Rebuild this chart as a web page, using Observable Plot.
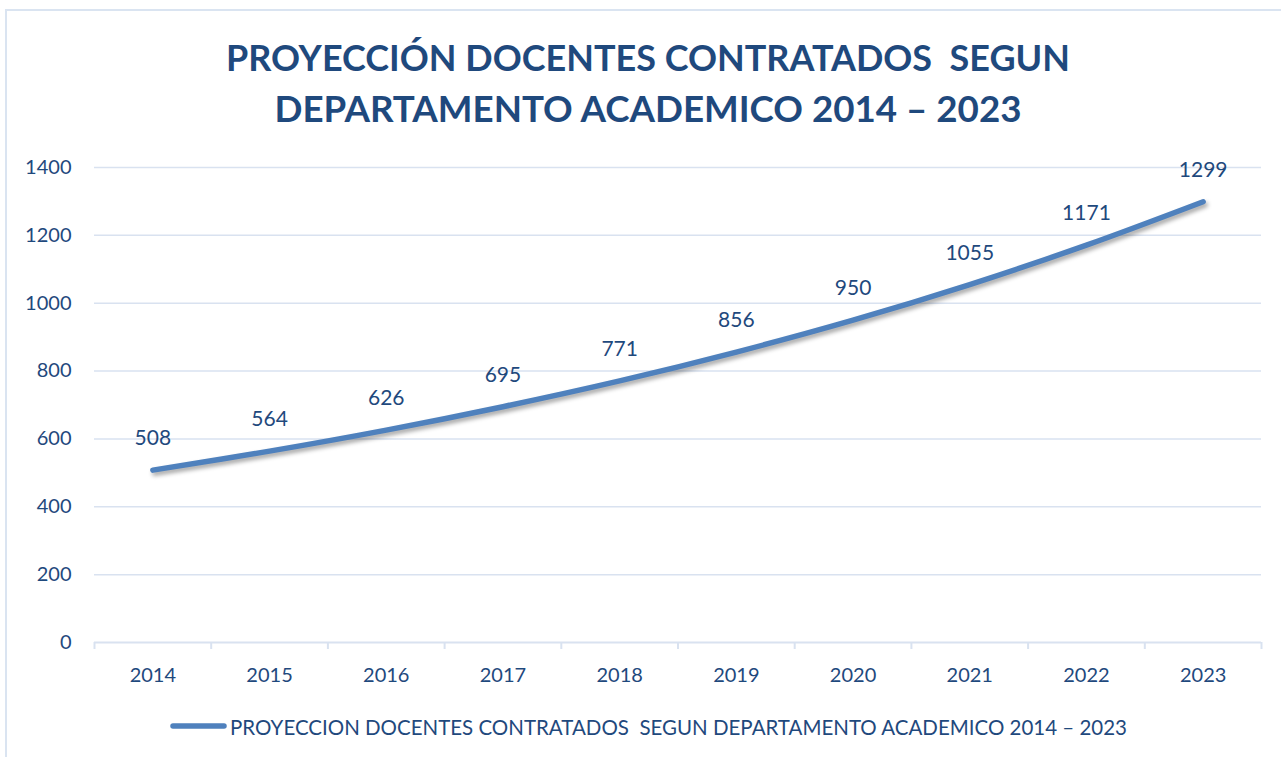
<!DOCTYPE html>
<html><head><meta charset="utf-8">
<script src="https://cdn.jsdelivr.net/npm/d3@7"></script>
<script src="https://cdn.jsdelivr.net/npm/@observablehq/plot@0.6"></script>
<style>
body{margin:0;background:#fff;}
#wrap{position:relative;width:1281px;height:757px;overflow:hidden;background:#fff;font-family:Lato,"Open Sans",sans-serif;}
#frame{position:absolute;left:5px;top:9px;width:1320px;height:800px;border:2px solid #dae4f1;box-sizing:border-box;}
#title{position:absolute;left:0;top:0;}
#chart{position:absolute;left:0;top:140px;}
#legend{position:absolute;left:0;top:700px;}
#chart g[aria-label="line"] path{filter:drop-shadow(2px 3px 2px rgba(0,0,0,0.35));}
</style>
</head><body>
<div id="wrap">
  <div id="frame"></div>
  <svg id="title" width="1281" height="140"></svg>
  <div id="chart"></div>
  <svg id="legend" width="1281" height="57"></svg>
</div>
<script>
const titleLines = ["PROYECCIÓN DOCENTES CONTRATADOS  SEGUN", "DEPARTAMENTO ACADEMICO 2014 – 2023"];
const legendLabel = "PROYECCION DOCENTES CONTRATADOS  SEGUN DEPARTAMENTO ACADEMICO 2014 – 2023";
const years = [2014, 2015, 2016, 2017, 2018, 2019, 2020, 2021, 2022, 2023];
const values = [508, 564, 626, 695, 771, 856, 950, 1055, 1171, 1299];
const yTicks = [0, 200, 400, 600, 800, 1000, 1200, 1400];

const textColor = "#1f497d";
const lineColor = "#4f81bd";
const gridColor = "#d9e2f0";

const data = years.map((year, i) => ({year, value: values[i]}));
const boundaries = [...years.map(y => y - 0.5), years[years.length - 1] + 0.5];

// Title
const tsvg = d3.select("#title");
const titleWidths = [844, 747];
const titleBase = [71, 122];
titleLines.forEach((t, i) => {
  tsvg.append("text")
    .attr("x", 648).attr("y", titleBase[i])
    .attr("text-anchor", "middle")
    .attr("font-family", "Lato, 'Open Sans', sans-serif")
    .attr("font-weight", "bold").attr("font-size", 36)
    .attr("fill", textColor)
    .attr("textLength", titleWidths[i]).attr("lengthAdjust", "spacingAndGlyphs")
    .style("white-space", "pre")
    .text(t);
});

// Chart
const chart = Plot.plot({
  width: 1281,
  height: 560,
  marginLeft: 94,
  marginRight: 20,
  marginTop: 27,
  marginBottom: 58,
  style: {fontFamily: "Lato, 'Open Sans', sans-serif", fontSize: "20px", background: "transparent", color: textColor},
  x: {type: "linear", domain: [boundaries[0], boundaries[boundaries.length - 1]], label: null},
  y: {domain: [0, 1400], label: null},
  marks: [
    Plot.gridY(yTicks.filter(d => d > 0), {stroke: gridColor, strokeOpacity: 1, strokeWidth: 1.5}),
    Plot.ruleY([0], {stroke: gridColor, strokeWidth: 2}),
    Plot.axisX(boundaries, {tickSize: 7, tickFormat: () => "", stroke: gridColor, strokeWidth: 2, strokeOpacity: 1, label: null}),
    Plot.axisX(years, {tickSize: 0, tickPadding: 25, tickFormat: d => String(d), fill: textColor, fontSize: 20, label: null}),
    Plot.axisY(yTicks, {tickSize: 0, tickPadding: 23, tickFormat: d => String(d), fill: textColor, fontSize: 20, label: null}),
    Plot.line(data, {x: "year", y: "value", stroke: lineColor, strokeWidth: 5.5, curve: "catmull-rom", strokeLinecap: "round"}),
    Plot.text(data, {x: "year", y: "value", text: d => String(d.value), dy: -25, lineAnchor: "bottom", fill: textColor, fontSize: 21})
  ]
});
document.getElementById("chart").appendChild(chart);

// Legend
const lsvg = d3.select("#legend");
lsvg.append("line").attr("x1", 173).attr("x2", 224).attr("y1", 26).attr("y2", 26)
  .attr("stroke", lineColor).attr("stroke-width", 5.5).attr("stroke-linecap", "round");
lsvg.append("text").attr("x", 230).attr("y", 35)
  .attr("font-family", "Lato, 'Open Sans', sans-serif").attr("font-size", 21)
  .attr("fill", textColor)
  .attr("textLength", 897).attr("lengthAdjust", "spacingAndGlyphs")
  .style("white-space", "pre")
  .text(legendLabel);
</script>
</body></html>
